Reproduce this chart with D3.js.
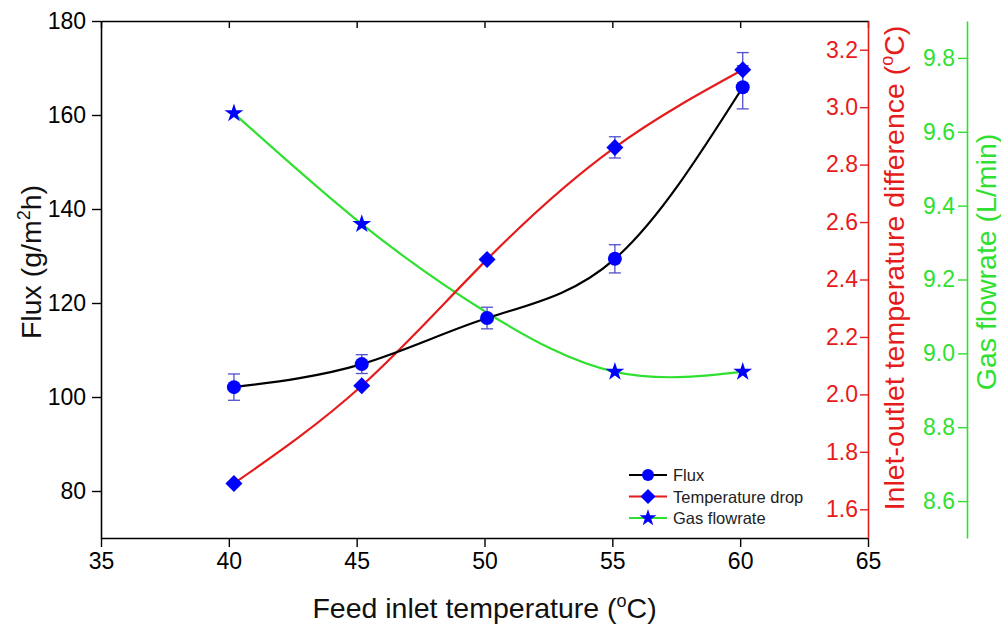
<!DOCTYPE html>
<html><head><meta charset="utf-8">
<script src="https://cdn.jsdelivr.net/npm/d3@7"></script>
<style>
body{margin:0;background:#fff;}
text{font-family:"Liberation Sans",Arial,sans-serif;}
</style></head>
<body><svg id="c" width="1001" height="629"></svg>
<script>
const temps = [40.2, 45.2, 50.1, 55.1, 60.1];
const flux = [102.1, 107.0, 116.8, 129.4, 165.9];
const fluxErr = [2.8, 2.0, 2.3, 3.0, 4.6];
const tempDrop = [1.69, 2.03, 2.47, 2.86, 3.13];
const tempDropErr = [0, 0, 0, 0.037, 0.06];
const gasFlow = [9.65, 9.35, 9.11, 8.95, 8.95];
const gasMarkerShown = [true, true, false, true, true];
const xTicks = [35, 40, 45, 50, 55, 60, 65];
const fluxTicks = [80, 100, 120, 140, 160, 180];
const dropTicks = [1.6, 1.8, 2.0, 2.2, 2.4, 2.6, 2.8, 3.0, 3.2];
const gasTicks = [8.6, 8.8, 9.0, 9.2, 9.4, 9.6, 9.8];

const RED = "#e61b1b", GREEN = "#30e030", BLUE = "#0000ff", ERR = "#5050cc";
const L = 101, R = 868, T = 21, B = 538, GX = 967;
const svg = d3.select("#c");

const x = d3.scaleLinear().domain([35, 65]).range([L, R]);
const yF = d3.scaleLinear().domain([70, 180]).range([B, T]);
const yD = d3.scaleLinear().domain([1.5, 3.3]).range([B, T]);
const yG = d3.scaleLinear().domain([8.5, 9.9]).range([B, T]);

const TFS = 23;
function styleAxis(g, color, fs) {
  g.selectAll("path.domain").attr("stroke", color).attr("stroke-width", 1.6);
  g.selectAll(".tick line").attr("stroke", color).attr("stroke-width", 1.4);
  g.selectAll(".tick text").attr("fill", color).style("font-size", fs + "px")
    .style("font-family", '"Liberation Sans",Arial,sans-serif');
}
const minor = (a, b, s) => d3.range(a, b + s / 2, s);

// bottom axis
const gb = svg.append("g").attr("transform", `translate(0,${B})`);
gb.call(d3.axisBottom(x).tickValues(minor(35, 65, 2.5)).tickFormat("").tickSizeInner(5).tickSizeOuter(0));
gb.call(d3.axisBottom(x).tickValues(xTicks).tickFormat(d3.format("d")).tickSizeInner(9).tickSizeOuter(0).tickPadding(6));
styleAxis(gb, "#000", TFS);
// top axis (inward ticks)
const gt = svg.append("g").attr("transform", `translate(0,${T})`);
gt.call(d3.axisTop(x).tickValues(minor(35, 65, 2.5)).tickFormat("").tickSizeInner(-4).tickSizeOuter(0));
gt.call(d3.axisTop(x).tickValues(xTicks).tickFormat("").tickSizeInner(-7).tickSizeOuter(0));
styleAxis(gt, "#000", TFS);
// left axis
const gl = svg.append("g").attr("transform", `translate(${L},0)`);
gl.call(d3.axisLeft(yF).tickValues(minor(70, 180, 10)).tickFormat("").tickSizeInner(5).tickSizeOuter(0));
gl.call(d3.axisLeft(yF).tickValues(fluxTicks).tickFormat(d3.format("d")).tickSizeInner(9).tickSizeOuter(0).tickPadding(6));
styleAxis(gl, "#000", TFS);
// red axis
const gr = svg.append("g").attr("transform", `translate(${R},0)`);
gr.call(d3.axisLeft(yD).tickValues(minor(1.5, 3.3, 0.1)).tickFormat("").tickSizeInner(4).tickSizeOuter(0));
gr.call(d3.axisLeft(yD).tickValues(dropTicks).tickFormat(d3.format(".1f")).tickSizeInner(8).tickSizeOuter(0).tickPadding(2));
styleAxis(gr, RED, TFS);
// green axis
const gg = svg.append("g").attr("transform", `translate(${GX},0)`);
gg.call(d3.axisLeft(yG).tickValues(minor(8.5, 9.9, 0.1)).tickFormat("").tickSizeInner(4).tickSizeOuter(0));
gg.call(d3.axisLeft(yG).tickValues(gasTicks).tickFormat(d3.format(".1f")).tickSizeInner(9).tickSizeOuter(0).tickPadding(3));
styleAxis(gg, GREEN, TFS);

// axis titles
const tfs = 28.5, sfs = 18, sup = -11;
const xt = svg.append("text").attr("x", (L + R) / 2).attr("y", 618).attr("text-anchor", "middle")
  .style("font-size", tfs + "px").attr("fill", "#111");
xt.append("tspan").text("Feed inlet temperature (");
xt.append("tspan").text("o").style("font-size", sfs + "px").attr("dy", sup);
xt.append("tspan").text("C)").attr("dy", -sup);

const yt = svg.append("text").attr("transform", `translate(41,262) rotate(-90)`).attr("text-anchor", "middle")
  .style("font-size", tfs + "px").attr("fill", "#111");
yt.append("tspan").text("Flux (g/m");
yt.append("tspan").text("2").style("font-size", sfs + "px").attr("dy", sup);
yt.append("tspan").text("h)").attr("dy", -sup);

const rt = svg.append("text").attr("transform", `translate(904,268) rotate(-90)`).attr("text-anchor", "middle")
  .style("font-size", tfs + "px").attr("fill", RED);
rt.append("tspan").text("Inlet-outlet temperature difference (");
rt.append("tspan").text("o").style("font-size", sfs + "px").attr("dy", sup);
rt.append("tspan").text("C)").attr("dy", -sup);

svg.append("text").attr("transform", `translate(996,262) rotate(-90)`).attr("text-anchor", "middle")
  .style("font-size", tfs + "px").attr("fill", GREEN).text("Gas flowrate (L/min)");

// curves
const line = (ys) => d3.line().x((d, i) => x(temps[i])).y((d, i) => ys(d)).curve(d3.curveNatural);
const plot = svg.append("g");
plot.append("path").datum(gasFlow).attr("d", line(yG)).attr("fill", "none").attr("stroke", GREEN).attr("stroke-width", 2.2);
plot.append("path").datum(tempDrop).attr("d", line(yD)).attr("fill", "none").attr("stroke", RED).attr("stroke-width", 2.2);
plot.append("path").datum(flux).attr("d", line(yF)).attr("fill", "none").attr("stroke", "#000").attr("stroke-width", 2.2);

const star = d3.symbol().type(d3.symbolStar).size(110);
const diamond = "M0,-8.5L8.5,0L0,8.5L-8.5,0Z";

// gas stars
plot.selectAll(".star").data(gasFlow.map((v, i) => ({v, i})).filter(d => gasMarkerShown[d.i])).join("path").attr("d", star)
  .attr("transform", d => `translate(${x(temps[d.i])},${yG(d.v)})`).attr("fill", BLUE);

// error bars
function errBars(vals, errs, ys) {
  vals.forEach((v, i) => {
    if (!errs[i]) return;
    const cx = x(temps[i]), y1 = ys(v + errs[i]), y2 = ys(v - errs[i]);
    plot.append("line").attr("x1", cx).attr("x2", cx).attr("y1", y1).attr("y2", y2).attr("stroke", ERR).attr("stroke-width", 1.3);
    [y1, y2].forEach(yy => plot.append("line").attr("x1", cx - 6).attr("x2", cx + 6).attr("y1", yy).attr("y2", yy).attr("stroke", ERR).attr("stroke-width", 1.3));
  });
}
errBars(tempDrop, tempDropErr, yD);
errBars(flux, fluxErr, yF);

plot.selectAll(".dia").data(tempDrop).join("path").attr("d", diamond)
  .attr("transform", (d, i) => `translate(${x(temps[i])},${yD(d)})`).attr("fill", BLUE);
plot.selectAll(".circ").data(flux).join("circle")
  .attr("cx", (d, i) => x(temps[i])).attr("cy", d => yF(d)).attr("r", 7).attr("fill", BLUE);

// legend
const legend = [
  {name: "Flux", color: "#000", shape: "circle"},
  {name: "Temperature drop", color: RED, shape: "diamond"},
  {name: "Gas flowrate", color: GREEN, shape: "star"}
];
const lg = svg.append("g");
legend.forEach((d, i) => {
  const yy = 475 + i * 21.5;
  lg.append("line").attr("x1", 629).attr("x2", 667).attr("y1", yy).attr("y2", yy).attr("stroke", d.color).attr("stroke-width", 1.8);
  if (d.shape === "circle") lg.append("circle").attr("cx", 648).attr("cy", yy).attr("r", 6).attr("fill", BLUE);
  else if (d.shape === "diamond") lg.append("path").attr("d", "M0,-7.5L7.5,0L0,7.5L-7.5,0Z").attr("transform", `translate(648,${yy})`).attr("fill", BLUE);
  else lg.append("path").attr("d", d3.symbol().type(d3.symbolStar).size(90)).attr("transform", `translate(648,${yy})`).attr("fill", BLUE);
  lg.append("text").attr("x", 673).attr("y", yy + 6).style("font-size", "16.5px").attr("fill", "#222").text(d.name);
});
</script></body></html>
